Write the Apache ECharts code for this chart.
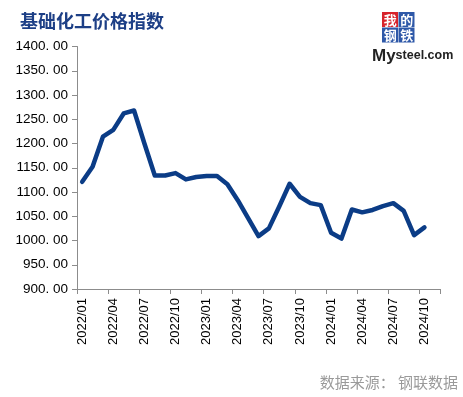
<!DOCTYPE html>
<html>
<head>
<meta charset="utf-8">
<script src="https://cdn.jsdelivr.net/npm/echarts@6/dist/echarts.min.js"></script>
<style>html,body{margin:0;padding:0;background:#fff;}#c{width:463px;height:397px;}</style>
</head>
<body>
<div id="c"></div>
<script>
const categories = [
  '2022/01','2022/02','2022/03','2022/04','2022/05','2022/06','2022/07','2022/08','2022/09','2022/10','2022/11','2022/12',
  '2023/01','2023/02','2023/03','2023/04','2023/05','2023/06','2023/07','2023/08','2023/09','2023/10','2023/11','2023/12',
  '2024/01','2024/02','2024/03','2024/04','2024/05','2024/06','2024/07','2024/08','2024/09','2024/10','2024/11'
];
const indexValues = [
  1121, 1152, 1214, 1228, 1262, 1268, 1200, 1134, 1134, 1139, 1126, 1131,
  1133, 1133, 1116, 1083, 1046, 1009, 1025, 1070, 1117, 1090, 1077, 1073,
  1016, 1004, 1064, 1058, 1063, 1071, 1077, 1061, 1011, 1027, null
];
const yTicks = { min: 900, max: 1400, step: 50 };
const titleText = '基础化工价格指数';
const sourceText = '数据来源： 钢联数据';
const logoChars = ['我', '的', '钢', '铁'];

const chart = echarts.init(document.getElementById('c'), null, { renderer: 'canvas' });
const labelFont = '"Liberation Sans", Arial, sans-serif';
const cjk = '"Noto Sans CJK SC", sans-serif';

const logoGraphics = [];
const boxX = 382, boxY = 12, bw = 16.5, bh = 15.5;
const boxColors = ['#d7232b', '#2e58a8', '#2e58a8', '#2e58a8'];
logoChars.forEach((ch, i) => {
  const cx = boxX + (i % 2) * bw, cy = boxY + Math.floor(i / 2) * bh;
  logoGraphics.push({
    type: 'rect', shape: { x: cx, y: cy, width: bw - 0.5, height: bh - 0.5 },
    style: { fill: boxColors[i] }
  });
  logoGraphics.push({
    type: 'text', x: cx + bw / 2, y: cy + bh / 2,
    style: { text: ch, fill: '#ffffff', font: 'bold 13px ' + cjk, textAlign: 'center', textVerticalAlign: 'middle' }
  });
});
logoGraphics.push({
  type: 'text', x: 372, y: 56,
  style: {
    text: '{a|My}{b|steel.com}',
    rich: {
      a: { fontSize: 17, fontWeight: 'bold', fontFamily: labelFont, fill: '#222' },
      b: { fontSize: 12.5, fontWeight: 'bold', fontFamily: labelFont, fill: '#222' }
    },
    textVerticalAlign: 'middle'
  }
});

chart.setOption({
  backgroundColor: '#ffffff',
  animation: false,
  grid: { left: 77, right: 23, top: 46.5, bottom: 108, containLabel: false },
  graphic: [
    {
      type: 'text', left: 20, top: 12,
      style: { text: titleText, fill: '#1d3f86', font: 'bold 18px ' + cjk }
    },
    {
      type: 'text', right: 5, top: 375,
      style: { text: sourceText, fill: '#9a9a9a', font: '15px ' + cjk }
    }
  ].concat(logoGraphics),
  xAxis: {
    type: 'category',
    data: categories,
    boundaryGap: true,
    axisLine: { show: true, lineStyle: { color: '#8c8c8c', width: 1 } },
    axisTick: { show: true, interval: 2, length: 5, alignWithLabel: false, lineStyle: { color: '#8c8c8c' } },
    axisLabel: { interval: 2, rotate: 90, margin: 9, color: '#000', fontSize: 13, fontFamily: labelFont }
  },
  yAxis: {
    type: 'value',
    min: yTicks.min, max: yTicks.max, interval: yTicks.step,
    axisLine: { show: true, lineStyle: { color: '#8c8c8c', width: 1 } },
    axisTick: { show: true, length: 5, lineStyle: { color: '#8c8c8c' } },
    splitLine: { show: false },
    axisLabel: {
      margin: 9, color: '#000', fontSize: 13.5, fontFamily: labelFont,
      formatter: v => v.toFixed(2).replace('.', '. ')
    }
  },
  series: [{
    type: 'line',
    data: indexValues,
    showSymbol: false,
    symbol: 'none',
    smooth: false,
    connectNulls: false,
    lineStyle: { color: '#0b3c86', width: 4.5, join: 'round', cap: 'round' }
  }]
});
</script>
</body>
</html>
